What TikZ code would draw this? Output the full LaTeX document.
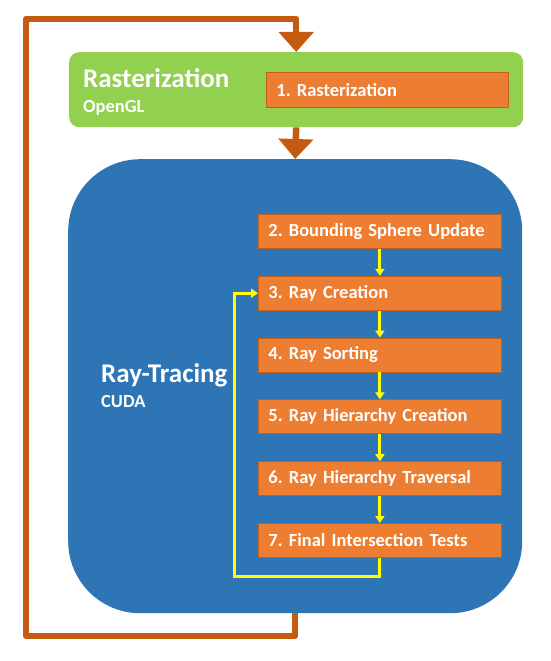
\documentclass[tikz,border=0pt]{standalone}
\usepackage{fontspec}
\setmainfont{Carlito}
\frenchspacing
\usetikzlibrary{positioning,arrows.meta}
\definecolor{rastgreen}{HTML}{92D050}
\definecolor{rtblue}{HTML}{2E75B6}
\definecolor{steporange}{HTML}{ED7D31}
\definecolor{stepedge}{HTML}{C0601E}
\definecolor{loopbrown}{HTML}{C55A11}
\definecolor{flowyellow}{HTML}{FFFF00}
\tikzset{
  stepbox/.style={fill=steporange, draw=stepedge, line width=0.8pt, text=white,
    minimum height=34pt, inner xsep=10pt, text width=223pt, align=left,
    font=\fontsize{18.5}{20}\selectfont\bfseries},
  titletext/.style={text=white, inner sep=0pt, font=\fontsize{27}{30}\selectfont\bfseries},
  subtext/.style={text=white, inner sep=0pt, font=\fontsize{18.5}{20}\selectfont\bfseries},
  brownline/.style={draw=loopbrown, line width=6.5pt, line join=round,
    -{Triangle[width=34pt,length=20pt]}},
  yarrow/.style={draw=flowyellow, line width=3pt,
    -{Triangle[width=9pt,length=7pt]}}
}
\begin{document}
\begin{tikzpicture}[x=1pt,y=-1pt]
\useasboundingbox (0,0) rectangle (550,661);
\node[fill=rastgreen, rounded corners=10pt, anchor=north west,
  minimum width=454pt, minimum height=75pt] (raster) at (69,52) {};
\node[fill=rtblue, rounded corners=72pt, anchor=north west,
  minimum width=454pt, minimum height=454pt] (rt) at (68,159) {};

\node[titletext, anchor=base west] (rasttitle) at (83,87) {Rasterization};
\node[subtext, anchor=base west] (opengl) at (83,112) {OpenGL};
\node[titletext, anchor=base west] (rttitle) at (101,382) {Ray-Tracing};
\node[subtext, anchor=base west] (cuda) at (101,407) {CUDA};

\node[stepbox, anchor=north west, text width=222pt, minimum height=35pt] (rasterstep) at (266,72) {1. Rasterization};
\node[stepbox, anchor=north west] (bsu) at (258,214) {2. Bounding Sphere Update};
\node[stepbox, below=27pt of bsu] (raycreate) {3. Ray Creation};
\node[stepbox, below=27pt of raycreate] (raysort) {4. Ray Sorting};
\node[stepbox, below=27pt of raysort] (rhcreate) {5. Ray Hierarchy Creation};
\node[stepbox, below=27pt of rhcreate] (rhtrav) {6. Ray Hierarchy Traversal};
\node[stepbox, below=27pt of rhtrav] (finaltest) {7. Final Intersection Tests};

\draw[yarrow] (bsu) -- (raycreate);
\draw[yarrow] (raycreate) -- (raysort);
\draw[yarrow] (raysort) -- (rhcreate);
\draw[yarrow] (rhcreate) -- (rhtrav);
\draw[yarrow] (rhtrav) -- (finaltest);
\coordinate (yloop) at (234,576);
\draw[yarrow] (finaltest.south) |- (yloop) |- (raycreate.west);

\coordinate (looptl) at (26,19);
\coordinate (loopbl) at (26,636);
\draw[brownline] (rt.south) -- (rt.south |- loopbl) -- (loopbl) -- (looptl)
  -- (looptl -| raster.north) -- (raster.north);
\draw[brownline] (raster.south) -- (rt.north);
\end{tikzpicture}
\end{document}
